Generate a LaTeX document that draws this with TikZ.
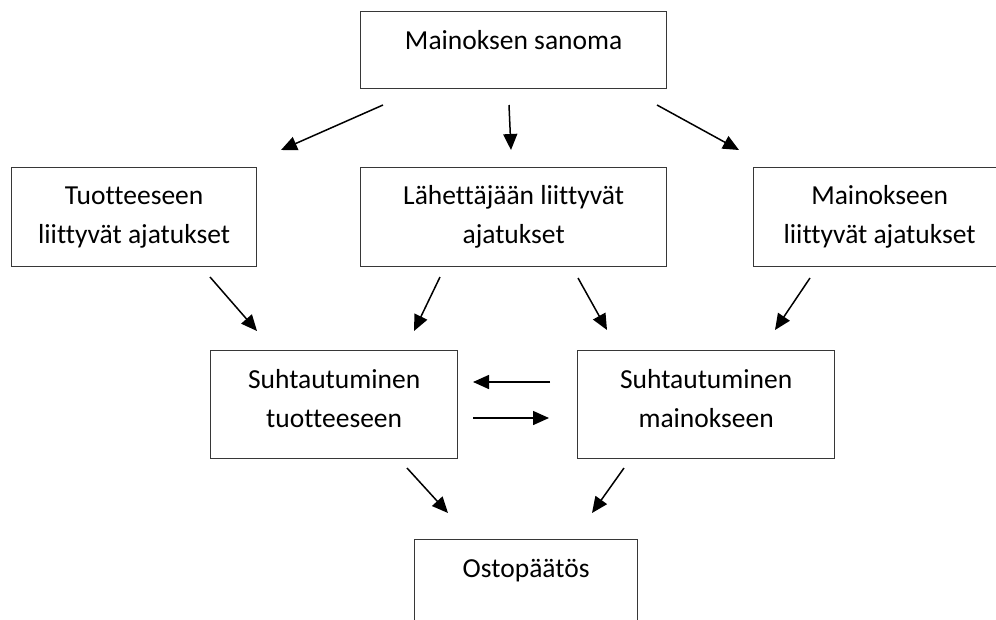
\documentclass[tikz,border=0pt]{standalone}
\usepackage{fontspec}
\setmainfont[RawFeature={-liga;-clig;-calt;-dlig}]{Carlito}
\usetikzlibrary{arrows.meta}
\definecolor{boxgray}{RGB}{55,55,55}
\newcommand\lines[1]{\begin{tabular}[t]{@{}c@{}}#1\end{tabular}}
\begin{document}
\begin{tikzpicture}[x=1pt,y=-1pt,
  box/.style={draw=boxgray, line width=1.3pt, inner sep=0pt, anchor=north west},
  txt/.style={anchor=base, inner sep=0pt, font=\fontsize{27.5}{39.5}\selectfont},
  arr/.style={line width=1.5pt, -{Triangle[length=16pt,width=14pt]}}]
\clip (0,0) rectangle (996,619);
\fill[white] (0,0) rectangle (996,619);
% boxes
\node[box, minimum width=306pt, minimum height=77pt] (top) at (360,11) {};
\node[box, minimum width=245pt, minimum height=99pt] (tuot) at (11,167) {};
\node[box, minimum width=306pt, minimum height=99pt] (lah) at (360,167) {};
\node[box, minimum width=252pt, minimum height=99pt] (main) at (753,167) {};
\node[box, minimum width=247pt, minimum height=108pt] (st) at (210,350) {};
\node[box, minimum width=257pt, minimum height=108pt] (sm) at (577,350) {};
\node[box, minimum width=223pt, minimum height=110pt] (osto) at (414,539) {};
% texts
\node[txt] (topt) at ([yshift=-38pt]top.north) {\lines{Mainoksen sanoma}};
\node[txt] (tuott) at ([yshift=-37pt]tuot.north) {\lines{Tuotteeseen\\liittyvät ajatukset}};
\node[txt] (laht) at ([yshift=-37pt]lah.north) {\lines{Lähettäjään liittyvät\\ajatukset}};
\node[txt] (maint) at ([yshift=-37pt]main.north) {\lines{Mainokseen\\liittyvät ajatukset}};
\node[txt] (stt) at ([yshift=-38pt]st.north) {\lines{Suhtautuminen\\tuotteeseen}};
\node[txt] (smt) at ([yshift=-38pt]sm.north) {\lines{Suhtautuminen\\mainokseen}};
\node[txt] (ostot) at ([yshift=-38pt]osto.north) {\lines{Ostopäätös}};
% arrow end points
\coordinate (a1s) at (383,105); \coordinate (a1e) at (281,150);
\coordinate (a2s) at (509,105); \coordinate (a2e) at (511,150);
\coordinate (a3s) at (657,105); \coordinate (a3e) at (739,150);
\coordinate (a4s) at (210,277); \coordinate (a4e) at (257,331);
\coordinate (a5s) at (440,277); \coordinate (a5e) at (414,331);
\coordinate (a6s) at (578,278); \coordinate (a6e) at (607,330);
\coordinate (a7s) at (810,278); \coordinate (a7e) at (775,330);
\coordinate (a8s) at (550,382); \coordinate (a8e) at (473,382);
\coordinate (a9s) at (473,418); \coordinate (a9e) at (549,418);
\coordinate (a10s) at (407,468); \coordinate (a10e) at (448,513);
\coordinate (a11s) at (624,468); \coordinate (a11e) at (592,513);
\foreach \i in {1,...,11} {\draw[arr] (a\i s) -- (a\i e);}
\end{tikzpicture}
\end{document}
